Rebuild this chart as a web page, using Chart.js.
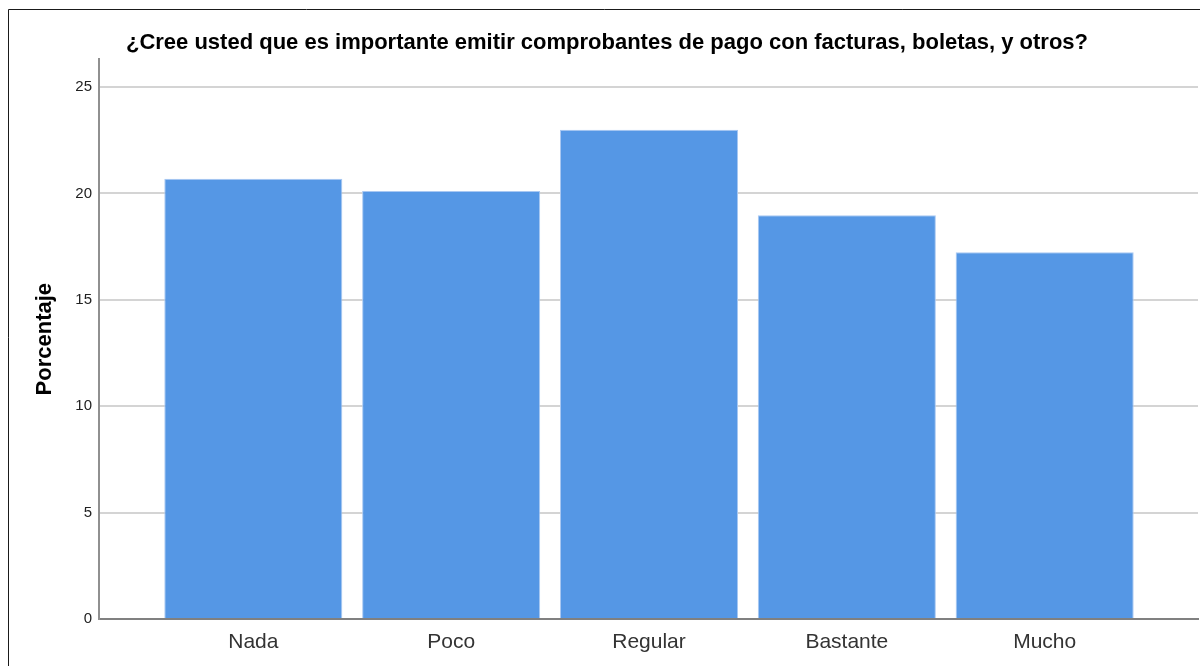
<!DOCTYPE html>
<html>
<head>
<meta charset="utf-8">
<script src="https://cdn.jsdelivr.net/npm/chart.js@4"></script>
<style>
  html, body { margin: 0; padding: 0; background: #fff; }
  canvas { display: block; }
</style>
</head>
<body>
<canvas id="c" width="1200" height="666"></canvas>
<script>
const chartTitle = "¿Cree usted que es importante emitir comprobantes de pago con facturas, boletas, y otros?";
const categories = ["Nada", "Poco", "Regular", "Bastante", "Mucho"];
const percentages = [20.69, 20.11, 22.99, 18.97, 17.24];
const yTicks = [0, 5, 10, 15, 20, 25];
const yAxisTitle = "Porcentaje";

const framePlugin = {
  id: 'frame',
  beforeDraw(chart) {
    const ctx = chart.ctx;
    ctx.save();
    ctx.strokeStyle = '#1a1a1a';
    ctx.lineWidth = 1;
    ctx.beginPath();
    ctx.moveTo(8.5, 666);
    ctx.lineTo(8.5, 9.5);
    ctx.lineTo(1200, 9.5);
    ctx.stroke();
    ctx.restore();
  }
};

new Chart(document.getElementById('c'), {
  type: 'bar',
  data: {
    datasets: [{
      data: categories.map((c, i) => ({ x: i, y: percentages[i] })),
      backgroundColor: '#5597e5',
      borderColor: '#a9c8f2',
      borderWidth: 1,
      barPercentage: 0.9,
      categoryPercentage: 1.0
    }]
  },
  options: {
    responsive: false,
    animation: false,
    devicePixelRatio: 1,
    layout: { padding: { left: 16, right: 2, top: 0, bottom: 0 } },
    plugins: {
      legend: { display: false },
      tooltip: { enabled: false },
      title: {
        display: true,
        text: chartTitle,
        color: '#000',
        font: { family: "'Liberation Sans', Arial, sans-serif", size: 22, weight: 'bold' },
        padding: { top: 30, bottom: 3 }
      }
    },
    scales: {
      x: {
        type: 'linear',
        min: -0.78,
        max: 4.775,
        offset: false,
        afterBuildTicks(scale) { scale.ticks = categories.map((c, i) => ({ value: i })); },
        afterFit(scale) { scale.height = 47; },
        ticks: {
          callback: (v) => categories[v] ?? '',
          color: '#333',
          font: { family: "'Liberation Sans', Arial, sans-serif", size: 21 },
          padding: 11,
          autoSkip: false,
          maxRotation: 0
        },
        grid: { display: false, drawTicks: false, offset: false },
        border: { display: true, color: '#808080', width: 2 }
      },
      y: {
        type: 'linear',
        min: 0,
        max: 26.3,
        afterBuildTicks(scale) { scale.ticks = yTicks.map(v => ({ value: v })); },
        afterFit(scale) { scale.width = 83; },
        ticks: {
          color: '#222',
          font: { family: "'Liberation Sans', Arial, sans-serif", size: 15 },
          padding: 7
        },
        grid: { color: '#d4d4d4', lineWidth: 2, drawTicks: false },
        border: { display: true, color: '#909090', width: 2 },
        title: {
          display: true,
          text: yAxisTitle,
          color: '#000',
          font: { family: "'Liberation Sans', Arial, sans-serif", size: 22, weight: 'bold' },
          padding: { top: 16, bottom: 0 }
        }
      }
    }
  },
  plugins: [framePlugin]
});
</script>
</body>
</html>
